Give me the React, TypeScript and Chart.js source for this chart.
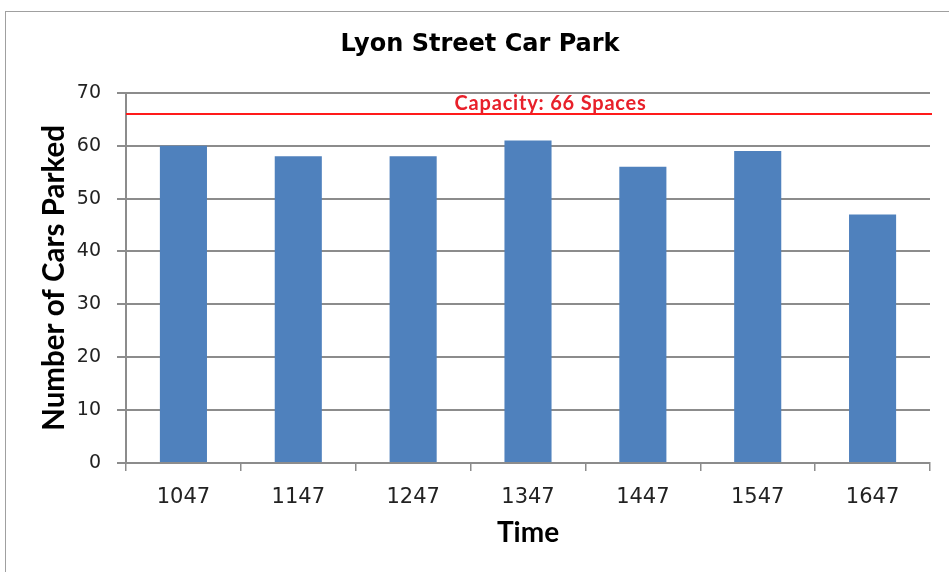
import React, { useEffect, useRef } from "react";
import { Chart, registerables } from "chart.js";

Chart.register(...registerables);

const TITLE = "Lyon Street Car Park";
const CATEGORIES = ["1047", "1147", "1247", "1347", "1447", "1547", "1647"];
const CARS_PARKED = [60, 58, 58, 61, 56, 59, 47];
const CAPACITY = 66;
const CAPACITY_LABEL = "Capacity: 66 Spaces";
const Y_MIN = 0;
const Y_MAX = 70;
const Y_STEP = 10;
const X_TITLE = "Time";
const Y_TITLE = "Number of Cars Parked";

const GRID = "#8c8c8c";

const capacityPlugin = {
  id: "capacityLine",
  afterDatasetsDraw(chart: any) {
    const { ctx, chartArea, scales } = chart;
    const y = scales.y.getPixelForValue(CAPACITY);
    ctx.save();
    ctx.strokeStyle = "#ff1a1a";
    ctx.lineWidth = 2;
    ctx.beginPath();
    ctx.moveTo(chartArea.left, y);
    ctx.lineTo(chartArea.right + 2, y);
    ctx.stroke();
    ctx.fillStyle = "#e8202a";
    ctx.font = "bold 20px Lato";
    try {
      (ctx as any).letterSpacing = "0.8px";
    } catch (e) {}
    ctx.textAlign = "left";
    ctx.textBaseline = "alphabetic";
    const x = scales.x.getPixelForValue(2.5);
    ctx.fillText(CAPACITY_LABEL, x - 16, y - 4);
    ctx.restore();
  },
};

export default function App() {
  const ref = useRef<HTMLCanvasElement>(null);
  useEffect(() => {
    if (!ref.current) return;
    const chart = new Chart(ref.current, {
      type: "bar",
      data: {
        labels: CATEGORIES,
        datasets: [
          {
            label: "Cars Parked",
            data: CARS_PARKED,
            backgroundColor: "#4f81bd",
            borderWidth: 0,
            barPercentage: 0.41,
            categoryPercentage: 1,
          },
        ],
      },
      options: {
        responsive: false,
        animation: false,
        devicePixelRatio: 1,
        layout: { padding: { left: 30, right: 19, top: 0, bottom: 0 } },
        plugins: {
          legend: { display: false },
          tooltip: { enabled: false },
          title: {
            display: true,
            text: TITLE,
            color: "#000",
            font: { family: "DejaVu Sans", size: 24, weight: "bold" },
            padding: { top: 30, bottom: 34 },
          },
        },
        scales: {
          x: {
            grid: {
              drawOnChartArea: false,
              drawTicks: true,
              tickLength: 8,
              color: GRID,
              lineWidth: 1.5,
            },
            border: { color: GRID, width: 2 },
            ticks: {
              font: { family: "DejaVu Sans", size: 21 },
              color: "#222",
              padding: 14,
            },
            title: {
              display: true,
              text: X_TITLE,
              color: "#000",
              font: { family: "Lato", size: 28, weight: "bold" },
              padding: { top: 0, bottom: 22 },
            },
            afterFit: (s: any) => {
              s.height = 109;
            },
          },
          y: {
            min: Y_MIN,
            max: Y_MAX,
            ticks: {
              stepSize: Y_STEP,
              font: { family: "DejaVu Sans", size: 19 },
              color: "#222",
              padding: 16,
            },
            grid: { color: GRID, lineWidth: 2, tickLength: 9 },
            border: { color: GRID, width: 2 },
            title: {
              display: true,
              text: Y_TITLE,
              color: "#000",
              font: { family: "Lato", size: 29.5, weight: "bold" },
              padding: { top: 7, bottom: 0 },
            },
            afterFit: (s: any) => {
              s.width = 96;
            },
          },
        },
      },
      plugins: [capacityPlugin],
    });
    return () => chart.destroy();
  }, []);

  return (
    <div
      style={{
        position: "fixed",
        left: 0,
        top: 0,
        width: 949,
        height: 572,
        overflow: "hidden",
        background: "#fff",
      }}
    >
      <div
        style={{
          position: "absolute",
          left: 5,
          top: 11,
          width: 1000,
          height: 700,
          border: "1.5px solid #a0a0a0",
        }}
      />
      <canvas
        ref={ref}
        width={949}
        height={572}
        style={{ position: "absolute", left: 0, top: 0 }}
      />
    </div>
  );
}
